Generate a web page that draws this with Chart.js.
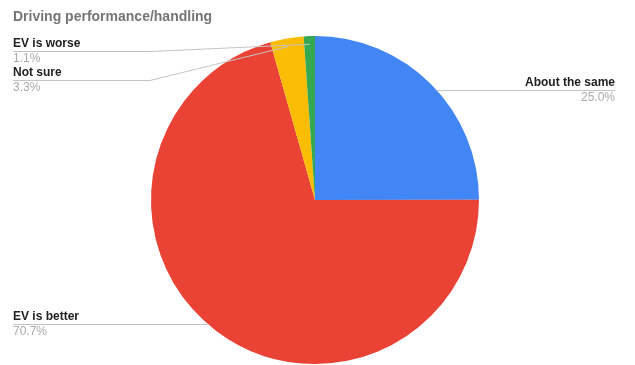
<!DOCTYPE html>
<html>
<head>
<meta charset="utf-8">
<script src="https://cdn.jsdelivr.net/npm/chart.js@4"></script>
<style>
  body { margin: 0; background: #fff; }
  #wrap { width: 635px; height: 365px; }
</style>
</head>
<body>
<div id="wrap"><canvas id="pie" width="635" height="365"></canvas></div>
<script>
"use strict";

// daten
const chartTitle = 'Driving performance/handling';
const categories = ['About the same', 'EV is better', 'Not sure', 'EV is worse'];
const shares = [25.0, 70.7, 3.3, 1.1];
const shareLabels = ['25.0%', '70.7%', '3.3%', '1.1%'];
const sliceColors = ['#4285F4', '#EA4335', '#FBBC04', '#34A853'];

// wo die beschriftungen stehen (side, textX, y der linie, knickpunkt x)
const labelPlacement = [
    {side: 'right', x: 615, lineY: 90, elbowX: 440},
    {side: 'left', x: 13, lineY: 324, elbowX: 150},
    {side: 'left', x: 13, lineY: 80, elbowX: 150},
    {side: 'left', x: 13, lineY: 51, elbowX: 150}
];

const FONT = "'Liberation Sans', Arial, sans-serif";

const calloutPlugin = {
    id: 'callouts',
    afterDraw(chart) {
        const ctx = chart.ctx;
        const meta = chart.getDatasetMeta(0);

        ctx.save();
        // titel
        ctx.font = 'bold 14px ' + FONT;
        ctx.fillStyle = '#757575';
        ctx.textAlign = 'left';
        ctx.textBaseline = 'middle';
        ctx.fillText(chartTitle, 13, 17);

        meta.data.forEach((arc, i) => {
            const p = labelPlacement[i];
            const mid = (arc.startAngle + arc.endAngle) / 2;
            const r = arc.outerRadius * 0.95;
            let px = arc.x + Math.cos(mid) * r;
            let py = arc.y + Math.sin(mid) * r;

            // waagrechte linie: nur bis zum rand
            if (Math.abs(py - p.lineY) < 4) {
                const dy = p.lineY - arc.y;
                const dx = Math.sqrt(arc.outerRadius * arc.outerRadius - dy * dy);
                px = p.side === 'left' ? arc.x - dx : arc.x + dx;
                py = p.lineY + 0.5;
            }

            // leader linie
            ctx.strokeStyle = '#c4c4c4';
            ctx.lineWidth = 1;
            ctx.beginPath();
            if (p.side === 'left') {
                ctx.moveTo(p.x, p.lineY + 0.5);
                ctx.lineTo(Math.min(px, p.elbowX), p.lineY + 0.5);
                ctx.lineTo(px, py);
            } else {
                ctx.moveTo(px, py);
                ctx.lineTo(Math.max(px, p.elbowX), p.lineY + 0.5);
                ctx.lineTo(p.x, p.lineY + 0.5);
            }
            ctx.stroke();

            // texte
            ctx.font = 'bold 12px ' + FONT;
            ctx.textAlign = p.side === 'left' ? 'left' : 'right';
            ctx.fillStyle = '#222222';
            ctx.fillText(categories[i], p.x, p.lineY - 7);
            ctx.font = '12px ' + FONT;
            ctx.fillStyle = '#aaaaaa';
            ctx.fillText(shareLabels[i], p.x, p.lineY + 8);
        });
        ctx.restore();
    }
};

new Chart(document.getElementById('pie').getContext('2d'), {
    type: 'pie',
    data: {
        labels: categories,
        datasets: [{
            data: shares,
            backgroundColor: sliceColors,
            borderWidth: 0,
            hoverOffset: 0
        }]
    },
    options: {
        responsive: false,
        animation: false,
        layout: {
            padding: {left: 151, right: 156, top: 36, bottom: 1}
        },
        plugins: {
            legend: {display: false},
            title: {display: false},
            tooltip: {enabled: false}
        }
    },
    plugins: [calloutPlugin]
});
</script>
</body>
</html>
